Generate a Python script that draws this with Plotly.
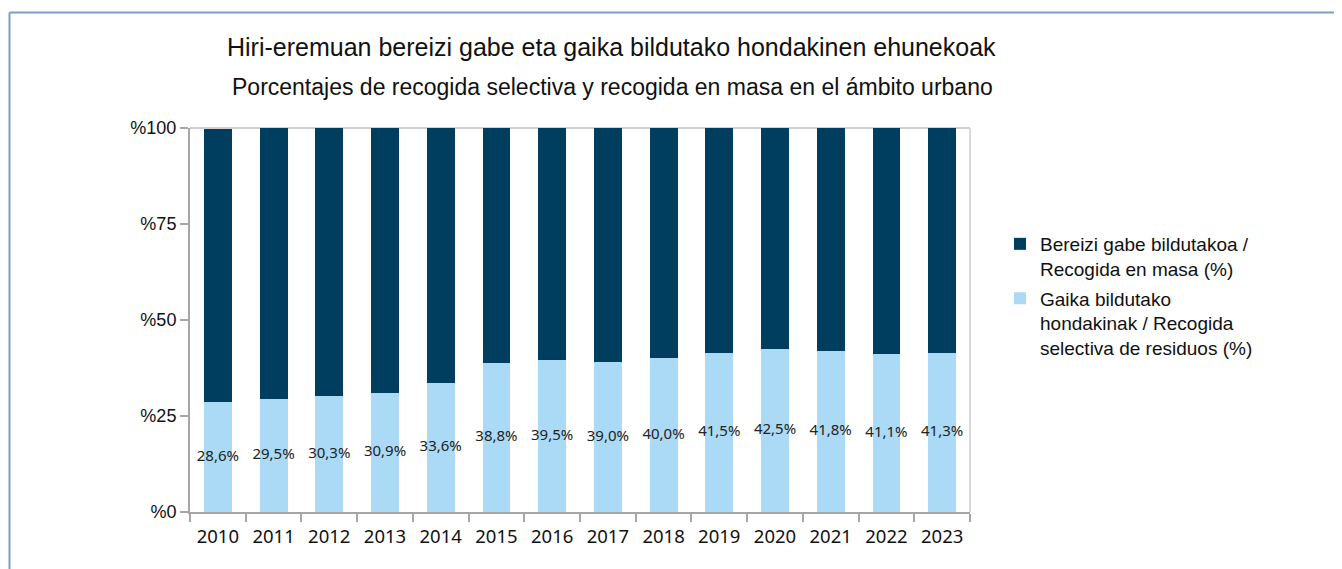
import plotly.graph_objects as go

years = ["2010", "2011", "2012", "2013", "2014", "2015", "2016",
         "2017", "2018", "2019", "2020", "2021", "2022", "2023"]
selective = [28.6, 29.5, 30.3, 30.9, 33.6, 38.8, 39.5, 39.0, 40.0, 41.5, 42.5, 41.8, 41.1, 41.3]
mass = [71.2, 70.5, 69.7, 69.1, 66.4, 61.2, 60.5, 61.0, 60.0, 58.5, 57.5, 58.2, 58.9, 58.7]
labels = [f"{v:.1f}%".replace(".", ",") for v in selective]
label_y = [v / 2 for v in selective]
y_ticks = [0, 25, 50, 75, 100]
y_ticktext = ["%0", "%25", "%50", "%75", "%100"]

title_main = "Hiri-eremuan bereizi gabe eta gaika bildutako hondakinen ehunekoak"
title_sub = "Porcentajes de recogida selectiva y recogida en masa en el ámbito urbano"
name_mass = "Bereizi gabe bildutakoa /<br>Recogida en masa (%)"
name_sel = "Gaika bildutako<br>hondakinak / Recogida<br>selectiva de residuos (%)"

W, H = 1334, 561
L, T = 182, 120
pw, ph = 780, 384
R, B = W - L - pw, H - T - ph

fig = go.Figure()
fig.add_trace(go.Bar(x=years, y=selective, name=name_sel, legendgroup="sel", legendrank=2,
                     marker=dict(color="#aadaf6", line=dict(width=0))))
fig.add_trace(go.Bar(x=years, y=mass, name=name_mass, legendgroup="mass", legendrank=1,
                     marker=dict(color="#003e60", line=dict(width=0))))
fig.add_trace(go.Scatter(x=years, y=label_y, mode="text", text=labels,
                         textfont=dict(family="Noto Sans", size=15, color="#222222"),
                         showlegend=False, hoverinfo="skip"))

fig.update_layout(
    width=W, height=H,
    margin=dict(l=L, r=R, t=T, b=B, autoexpand=False),
    paper_bgcolor="white", plot_bgcolor="white",
    barmode="stack", bargap=0.5,
    showlegend=True,
    legend=dict(x=(992 - L) / pw, y=(T + ph - 217) / ph, xanchor="left", yanchor="top",
                traceorder="grouped", tracegroupgap=2, valign="top",
                font=dict(family="Liberation Sans", size=19, color="#111111"),
                itemwidth=30, bgcolor="rgba(0,0,0,0)"),
    xaxis=dict(type="category", range=[-0.5, len(years) - 0.5],
               showgrid=False, showline=True, linecolor="#a6a6a6",
               linewidth=2, ticks="outside", tickson="boundaries", ticklen=8,
               tickcolor="#a6a6a6", tickwidth=2, ticklabelstandoff=7,
               tickfont=dict(family="Noto Sans", size=18.5, color="#111111")),
    yaxis=dict(range=[0, 100], tickvals=y_ticks, ticktext=y_ticktext,
               showgrid=False, zeroline=False, showline=True, linecolor="#a6a6a6",
               linewidth=2, ticks="outside", ticklen=8, tickcolor="#a6a6a6", tickwidth=2,
               tickfont=dict(family="Liberation Sans", size=18, color="#111111")),
    annotations=[
        dict(text=title_main, xref="paper", yref="paper",
             x=(603 - L) / pw, y=1 + (T - 39) / ph, xanchor="center", yanchor="middle",
             showarrow=False, font=dict(family="Liberation Sans", size=25, color="#111111")),
        dict(text=title_sub, xref="paper", yref="paper",
             x=(604 - L) / pw, y=1 + (T - 79) / ph, xanchor="center", yanchor="middle",
             showarrow=False, font=dict(family="Liberation Sans", size=23, color="#111111")),
    ],
    shapes=[
        dict(type="line", xref="paper", yref="paper", x0=0, x1=1, y0=1, y1=1,
             line=dict(color="#cfcfcf", width=2), layer="below"),
        dict(type="line", xref="paper", yref="paper", x0=1, x1=1, y0=0, y1=1,
             line=dict(color="#d9d9d9", width=2), layer="below"),
        dict(type="line", xref="paper", yref="paper",
             x0=(1.5 - L) / pw, x1=(W + 5 - L) / pw,
             y0=1 + (T - 4.5) / ph, y1=1 + (T - 4.5) / ph,
             line=dict(color="#7d9ec6", width=2)),
        dict(type="line", xref="paper", yref="paper",
             x0=(1.5 - L) / pw, x1=(1.5 - L) / pw,
             y0=1 + (T - 4.5) / ph, y1=-(B + 5) / ph,
             line=dict(color="#7d9ec6", width=2)),
    ],
)

fig.write_html("out.html")
